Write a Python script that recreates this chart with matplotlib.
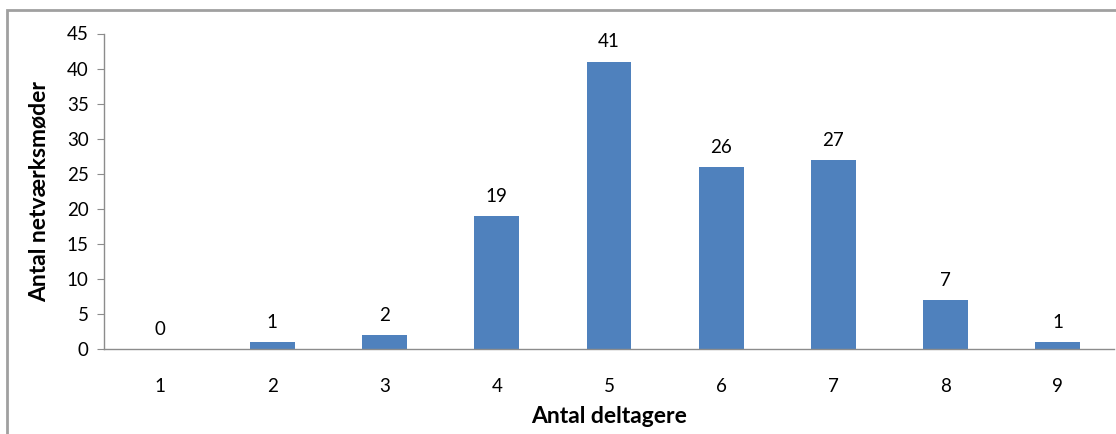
import matplotlib.pyplot as plt
from matplotlib.patches import Rectangle

categories = ['1', '2', '3', '4', '5', '6', '7', '8', '9']
values = [0, 1, 2, 19, 41, 26, 27, 7, 1]
y_ticks = [0, 5, 10, 15, 20, 25, 30, 35, 40, 45]

plt.rcParams['font.family'] = ['Lato', 'DejaVu Sans']

fig = plt.figure(figsize=(11.16, 4.34), dpi=100)
ax = fig.add_axes([104/1116, 1-349/434, 1010/1116, (349-33.5)/434])

x = range(len(categories))
bars = ax.bar(x, values, width=0.4, color='#4F81BD')
for xi, v in zip(x, values):
    ax.annotate(str(v), (xi, v), xytext=(0, 8), textcoords='offset points',
                ha='center', va='bottom', fontsize=13.5, color='black')

ax.set_xlim(-0.5, len(categories) - 0.5)
ax.set_ylim(0, 45)
ax.set_yticks(y_ticks)
ax.set_xticks(list(x))
ax.set_xticklabels(categories)
ax.tick_params(axis='y', length=5, color='#8c8c8c', labelsize=13.5, pad=6)
ax.tick_params(axis='x', length=0, labelsize=13.5, pad=21)

for s in ['top', 'right']:
    ax.spines[s].set_visible(False)
for s in ['left', 'bottom']:
    ax.spines[s].set_color('#8c8c8c')
    ax.spines[s].set_linewidth(1)

ax.set_xlabel('Antal deltagere', fontsize=16.5, fontweight='bold', labelpad=8)
ax.set_ylabel('Antal netværksmøder', fontsize=16.5, fontweight='bold', labelpad=12)

# outer chart border (only top and left visible in the crop)
fig.patches.append(Rectangle((6.5/1116, -0.1), 1.2, 1.1 - 10/434,
                             transform=fig.transFigure, fill=False,
                             edgecolor='#a0a0a0', linewidth=2))

fig.savefig('out.png', dpi=100)
plt.close()
